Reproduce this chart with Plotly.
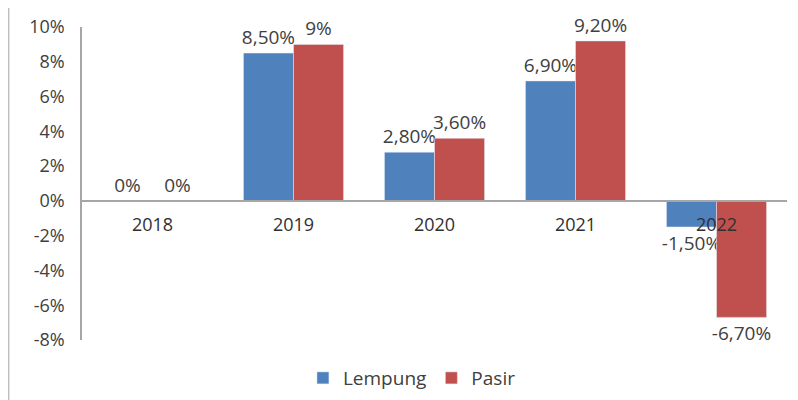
import plotly.graph_objects as go

years = ["2018", "2019", "2020", "2021", "2022"]
lempung = [0.0, 8.5, 2.8, 6.9, -1.5]
pasir = [0.0, 9.0, 3.6, 9.2, -6.7]
lempung_labels = ["0%", "8,50%", "2,80%", "6,90%", "-1,50%"]
pasir_labels = ["0%", "9%", "3,60%", "9,20%", "-6,70%"]
y_ticks = [10, 8, 6, 4, 2, 0, -2, -4, -6, -8]
y_tick_text = ["10%", "8%", "6%", "4%", "2%", "0%", "-2%", "-4%", "-6%", "-8%"]

FONT = "Open Sans, Liberation Sans, sans-serif"

fig = go.Figure()
fig.add_trace(go.Bar(name="Lempung", x=years, y=lempung, marker_color="#4F81BD",
                     text=lempung_labels, textposition="outside", cliponaxis=False,
                     constraintext="none",
                     textfont=dict(size=19, color="#404040", family=FONT)))
fig.add_trace(go.Bar(name="Pasir", x=years, y=pasir, marker_color="#C0504D",
                     text=pasir_labels, textposition="outside", cliponaxis=False,
                     constraintext="none",
                     textfont=dict(size=19, color="#404040", family=FONT)))

zero_pos = 8 / 18
fig.update_layout(
    width=790, height=392,
    margin=dict(l=74, r=11, t=19, b=60),
    plot_bgcolor="white", paper_bgcolor="white",
    barmode="group", bargap=0.29, bargroupgap=0,
    font=dict(family=FONT, color="#404040", size=18),
    xaxis=dict(type="category", anchor="free", position=zero_pos,
               showline=True, linecolor="#A6A6A6", linewidth=1.5,
               ticks="", showgrid=False, tickfont=dict(size=18, color="#303030"),
               ticklabelstandoff=8, automargin=False),
    yaxis=dict(range=[-8, 10], tickvals=y_ticks, ticktext=y_tick_text,
               showline=True, linecolor="#A6A6A6", linewidth=1.5,
               showgrid=False, zeroline=False, ticks="", automargin=False,
               ticklabelstandoff=12,
               tickfont=dict(size=18, color="#404040")),
    legend=dict(orientation="h", x=0.468, xanchor="center",
                yref="container", y=0.056, yanchor="middle",
                font=dict(size=19, color="#404040"), itemwidth=30,
                tracegroupgap=0),
)
fig.add_shape(type="rect", xref="paper", yref="paper",
              x0=-0.104, x1=1.05, y0=-0.4, y1=1.064,
              line=dict(color="#BFBFBF", width=1.5), fillcolor="rgba(0,0,0,0)", layer="below")

fig.write_html("out.html")
